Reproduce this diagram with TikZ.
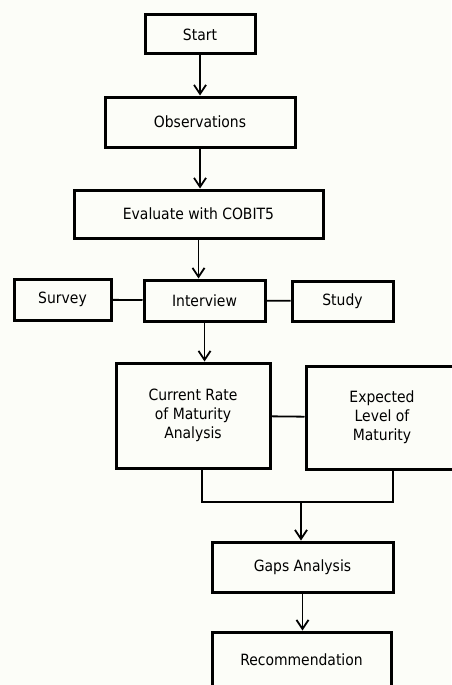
\documentclass[tikz,border=0pt]{standalone}
\usepackage{fontspec}
\setmainfont{DejaVu Sans Condensed}
\usetikzlibrary{arrows.meta,calc}
\definecolor{paper}{RGB}{252,253,248}

\begin{document}
\begin{tikzpicture}[x=1pt,y=-1pt,
    box/.style={draw,line width=3pt,align=center,inner sep=0pt,font=\fontsize{15.5}{19}\selectfont},
    line/.style={line width=1.8pt},
    arr/.style={line width=1.8pt,-{Straight Barb[length=9pt,width=12pt]}}]

\useasboundingbox (0,0) rectangle (451,685);
\fill[paper] (0,0) rectangle (451,685);

\node[box,minimum width=110pt,minimum height=39pt] (start) at (200,34.5) {Start};
\node[box,minimum width=190pt,minimum height=50pt] (obs) at (200,122) {Observations};
\node[box,minimum width=249pt,minimum height=48pt] (eval) at (198.5,214) {Evaluate with COBIT5};
\node[box,minimum width=121pt,minimum height=41pt] (interview) at (204.5,300.5) {Interview};
\node[box,minimum width=97pt,minimum height=41pt] (survey) at (62.5,299.5) {Survey};
\node[box,minimum width=101pt,minimum height=40pt] (study) at (342.5,301) {Study};
\node[box,minimum width=154pt,minimum height=105pt] (current) at (193,415.5) {Current Rate\\of Maturity\\Analysis};
\node[box,minimum width=152pt,minimum height=103pt] (expected) at (382,417.5) {Expected\\Level of\\Maturity};
\node[box,minimum width=181pt,minimum height=50pt] (gaps) at (302.5,567) {Gaps Analysis};
\node[box,minimum width=179pt,minimum height=55pt] (rec) at (301.5,659.5) {Recommendation};

\draw[arr] (start) -- (obs);
\draw[arr] (obs) -- (obs |- eval.north);
\draw[arr] (eval) -- (eval |- interview.north);
\foreach \side in {survey,study}
    \draw[line] (interview) -- (\side);
\draw[arr] (interview) -- (interview |- current.north);
\draw[line] (current) -- (expected);

\coordinate (join) at (301,502);
\draw[line] ([xshift=9pt]current.south) |- (join) -| ([xshift=11pt]expected.south);
\draw[arr] (join) -- (join |- gaps.north);
\draw[arr] (gaps) -- (gaps |- rec.north);

\end{tikzpicture}
\end{document}
